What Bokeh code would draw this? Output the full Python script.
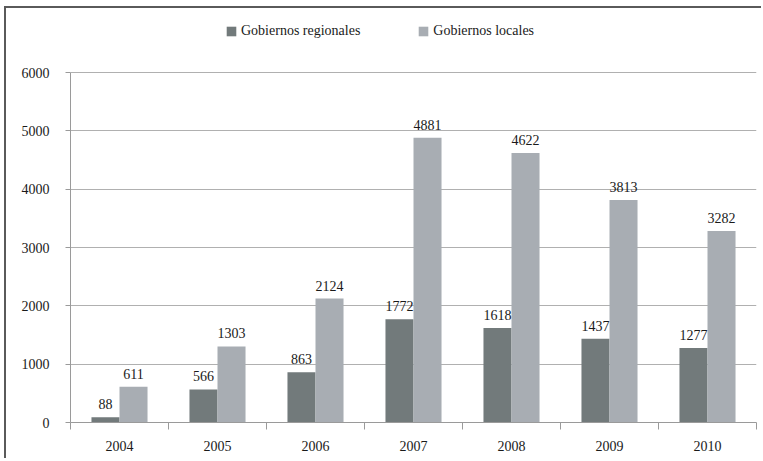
import numpy as np
from bokeh.plotting import figure
from bokeh.layouts import column
from bokeh.models import (ColumnDataSource, FixedTicker, LabelSet, Legend, LegendItem,
                          Range1d)
from bokeh.embed import file_html
from bokeh.resources import INLINE

years = ["2004", "2005", "2006", "2007", "2008", "2009", "2010"]
regionales = [88, 566, 863, 1772, 1618, 1437, 1277]
locales = [611, 1303, 2124, 4881, 4622, 3813, 3282]
y_ticks = [0, 1000, 2000, 3000, 4000, 5000, 6000]
series_names = ["Gobiernos regionales", "Gobiernos locales"]

DARK = "#727a7b"
LIGHT = "#a8adb3"
FONT = "Liberation Serif"

centers = np.arange(len(years)) + 0.5
bar_w = 0.286
off = 0.143

src = ColumnDataSource(dict(
    xr=centers - off, xl=centers + off,
    reg=regionales, loc=locales,
    reg_t=[str(v) for v in regionales], loc_t=[str(v) for v in locales],
))

# frame extends above the 6000 line to hold the legend (axis line bounded to 0..6000)
y_top = y_ticks[-1] * 402 / 350

p = figure(width=755, height=450, x_range=Range1d(0, len(years)), y_range=Range1d(0, y_top),
           output_backend="svg", toolbar_location=None,
           min_border_left=64, min_border_right=5, min_border_top=12, min_border_bottom=36)
p.outline_line_color = None

r1 = p.vbar(x="xr", top="reg", width=bar_w, source=src, color=DARK, line_color=None)
r2 = p.vbar(x="xl", top="loc", width=bar_w, source=src, color=LIGHT, line_color=None)

for xcol, ycol, tcol in [("xr", "reg", "reg_t"), ("xl", "loc", "loc_t")]:
    p.add_layout(LabelSet(x=xcol, y=ycol, text=tcol, source=src, y_offset=8,
                          text_align="center", text_baseline="bottom",
                          text_font=FONT, text_font_size="14px", text_color="#1a1a1a"))

# x axis: labels at centers, ticks at category boundaries (minor ticks)
p.xaxis.ticker = FixedTicker(ticks=list(centers), minor_ticks=list(range(len(years) + 1)))
p.xaxis.major_label_overrides = {float(c): y for c, y in zip(centers, years)}
p.xaxis.major_tick_out = 0
p.xaxis.major_tick_in = 0
p.xaxis.minor_tick_out = 7
p.xaxis.minor_tick_in = 0
p.xaxis.minor_tick_line_color = "#9a9a9a"
p.xaxis.axis_line_color = "#9a9a9a"
p.xaxis.major_label_standoff = 11
p.xgrid.grid_line_color = None

p.yaxis.ticker = FixedTicker(ticks=y_ticks)
p.yaxis.bounds = (y_ticks[0], y_ticks[-1])
p.yaxis.minor_tick_line_color = None
p.yaxis.major_tick_out = 5
p.yaxis.major_tick_in = 0
p.yaxis.major_tick_line_color = "#9a9a9a"
p.yaxis.axis_line_color = "#9a9a9a"
p.yaxis.major_label_standoff = 16
p.ygrid.grid_line_color = "#b0b0b0"
p.ygrid.ticker = FixedTicker(ticks=y_ticks)

for ax in (p.xaxis, p.yaxis):
    ax.major_label_text_font = FONT
    ax.major_label_text_font_size = "14px"
    ax.major_label_text_color = "#1a1a1a"

lg = Legend(items=[LegendItem(label=series_names[0], renderers=[r1]),
                   LegendItem(label=series_names[1], renderers=[r2])],
            location=(155, 383),
            orientation="horizontal", padding=0, margin=0, spacing=57,
            glyph_width=12, glyph_height=12, label_height=12, label_standoff=4,
            label_text_font=FONT, label_text_font_size="14px", label_text_color="#1a1a1a",
            border_line_alpha=0, background_fill_alpha=0)
p.add_layout(lg, "center")

layout = column(p, styles={"border-left": "2px solid #5a5a5a", "border-top": "2px solid #5a5a5a",
                           "margin-left": "4px", "margin-top": "6px"})

open("out.html", "w").write(file_html(layout, INLINE))
